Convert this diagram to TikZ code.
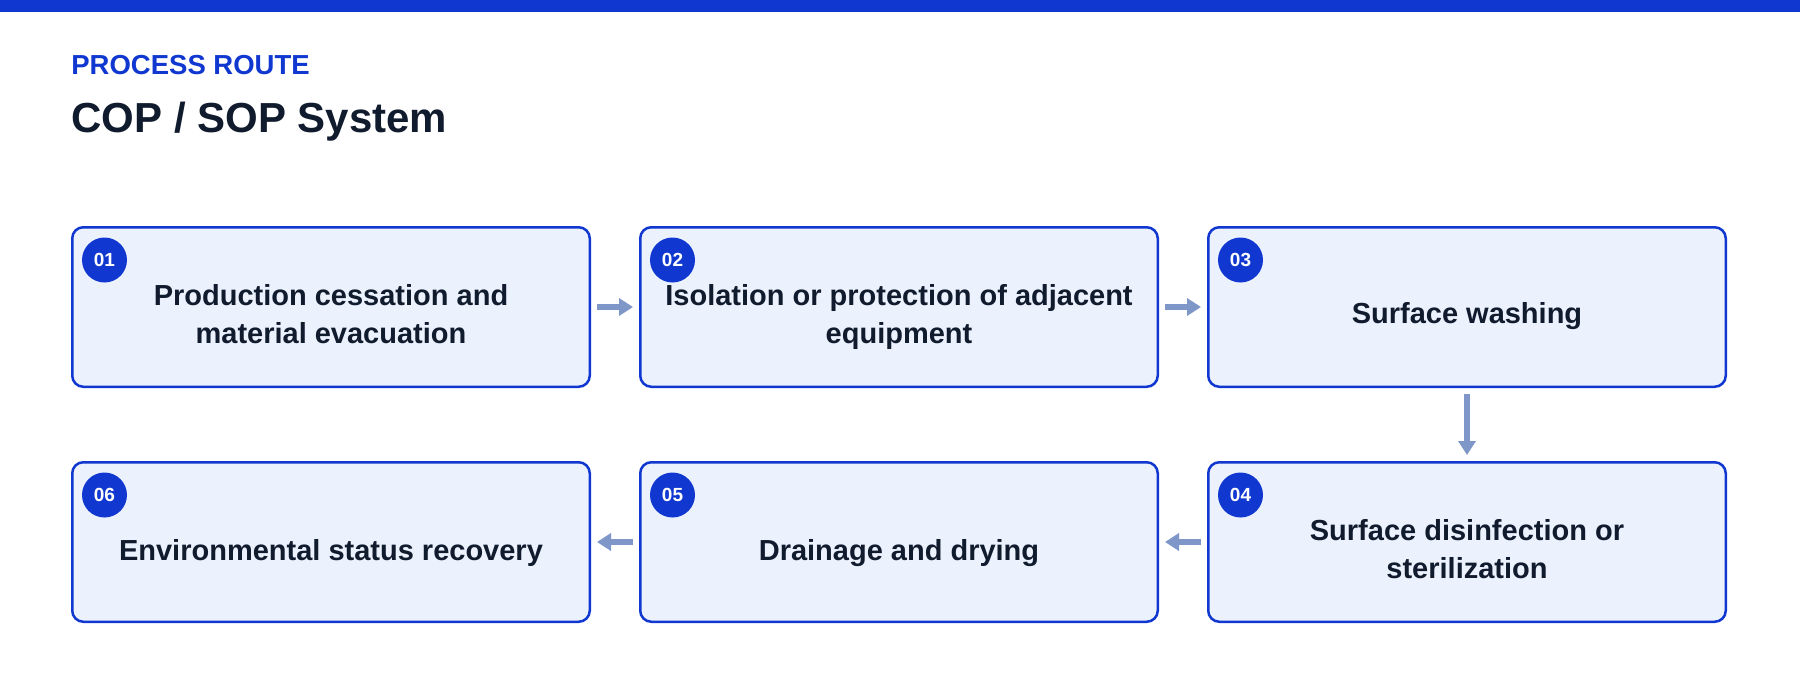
\documentclass[tikz,border=0pt]{standalone}
\usepackage{fontspec}
\setmainfont{Liberation Sans}
\usetikzlibrary{positioning,arrows.meta}
\definecolor{routeblue}{HTML}{1038D0}
\definecolor{boxfill}{HTML}{EBF1FD}
\definecolor{inkdark}{HTML}{111B2E}
\definecolor{flowgray}{HTML}{7F96C8}

\begin{document}
\begin{tikzpicture}[x=0.5pt,y=-0.5pt,font=\bfseries,
stepbox/.style={draw=routeblue, line width=1.25pt, fill=boxfill, rounded corners=5.5pt, minimum width=258.75pt, minimum height=79.75pt},
steptext/.style={align=center, text=inkdark, inner sep=0pt, text depth=0pt, font=\fontsize{14.5}{19.2}\selectfont\bfseries},
stepnum/.style={circle, fill=routeblue, text=white, minimum size=22.5pt, inner sep=0pt, font=\fontsize{9.5}{11}\selectfont\bfseries},
flow/.style={draw=flowgray, line width=3pt, -{Triangle[length=7pt,width=8.5pt]}, shorten <=3pt, shorten >=3pt},
node distance=36.5pt and 24pt]
\useasboundingbox[fill=white] (0,0) rectangle (1800,680);
\fill[routeblue] (0,0) rectangle (1800,12);
\node[anchor=base west, inner sep=0pt, text=routeblue, font=\fontsize{13.75}{16}\selectfont\bfseries] (kicker) at (71,74) {PROCESS ROUTE};
\node[anchor=base west, inner sep=0pt, text=inkdark, font=\fontsize{21}{25}\selectfont\bfseries] (title) at (71,132) {COP / SOP System};

\node[stepbox] (s1) at (331,307) {};
\node[stepbox, right=of s1] (s2) {};
\node[stepbox, right=of s2] (s3) {};
\node[stepbox, below=of s3] (s4) {};
\node[stepbox, left=of s4] (s5) {};
\node[stepbox, left=of s5] (s6) {};

\node[steptext] (t1) at ([yshift=-3.5pt]s1.center) {Production cessation and\\material evacuation};
\node[steptext] (t2) at ([yshift=-3.5pt]s2.center) {Isolation or protection of adjacent\\equipment};
\node[steptext] (t3) at ([yshift=-3pt]s3.center) {Surface washing};
\node[steptext] (t4) at ([yshift=-3.5pt]s4.center) {Surface disinfection or\\sterilization};
\node[steptext] (t5) at ([yshift=-4pt]s5.center) {Drainage and drying};
\node[steptext] (t6) at ([yshift=-4pt]s6.center) {Environmental status recovery};

\node[stepnum] (n1) at ([xshift=16.75pt,yshift=-17pt]s1.north west) {01};
\node[stepnum] (n2) at ([xshift=16.75pt,yshift=-17pt]s2.north west) {02};
\node[stepnum] (n3) at ([xshift=16.75pt,yshift=-17pt]s3.north west) {03};
\node[stepnum] (n4) at ([xshift=16.75pt,yshift=-17pt]s4.north west) {04};
\node[stepnum] (n5) at ([xshift=16.75pt,yshift=-17pt]s5.north west) {05};
\node[stepnum] (n6) at ([xshift=16.75pt,yshift=-17pt]s6.north west) {06};

\draw[flow] (s1) -- (s2);
\draw[flow] (s2) -- (s3);
\draw[flow] (s3) -- (s4);
\draw[flow] (s4) -- (s5);
\draw[flow] (s5) -- (s6);
\end{tikzpicture}
\end{document}
